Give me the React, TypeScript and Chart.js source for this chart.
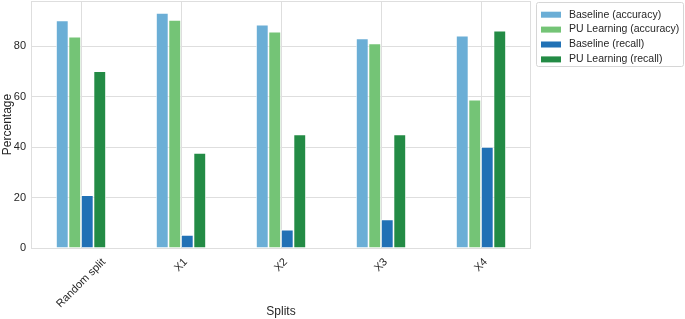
import React, { useEffect, useRef } from "react";
import { Chart, registerables } from "chart.js";
Chart.register(...registerables);

const categories = ["Random split", "X1", "X2", "X3", "X4"];
const baselineAccuracy = [90.3, 93.3, 88.6, 83.1, 84.2];
const puAccuracy = [83.8, 90.5, 85.8, 81.2, 58.8];
const baselineRecall = [20.9, 5.2, 7.3, 11.3, 40.1];
const puRecall = [70.1, 37.7, 45.1, 45.1, 86.2];
const yTicks = [0, 20, 40, 60, 80];
const seriesLabels = [
  "Baseline (accuracy)",
  "PU Learning (accuracy)",
  "Baseline (recall)",
  "PU Learning (recall)",
];
const seriesColors = ["#6baed6", "#74c476", "#2171b5", "#238b45"];

const FONT = "'Liberation Sans', Arial, Helvetica, sans-serif";
const TEXT = "#262626";
const GRID = "#dedede";

const framePlugin = {
  id: "frame",
  afterDatasetsDraw(chart: any) {
    const { ctx, chartArea } = chart;
    ctx.save();
    ctx.strokeStyle = GRID;
    ctx.lineWidth = 1;
    ctx.strokeRect(
      Math.round(chartArea.left) + 0.5,
      Math.round(chartArea.top) + 0.5,
      Math.round(chartArea.right - chartArea.left) - 1,
      Math.round(chartArea.bottom - chartArea.top)
    );
    ctx.restore();
  },
};

const xLabelPlugin = {
  id: "xLabels",
  afterDraw(chart: any) {
    const { ctx, chartArea } = chart;
    const xs = chart.scales.x;
    const size = 11;
    ctx.save();
    ctx.font = `${size}px ${FONT}`;
    ctx.fillStyle = TEXT;
    ctx.textAlign = "center";
    ctx.textBaseline = "middle";
    const labels = chart.data.labels as string[];
    labels.forEach((lab, i) => {
      const tx = xs.getPixelForTick(i);
      const w = ctx.measureText(lab).width;
      const h = size * 1.0;
      const bb = (w + h) * Math.SQRT1_2;
      const top = chartArea.bottom + 8.5;
      ctx.save();
      ctx.translate(tx, top + bb / 2);
      ctx.rotate(-Math.PI / 4);
      ctx.fillText(lab, 0, 0);
      ctx.restore();
    });
    ctx.restore();
  },
};

const legendPlugin = {
  id: "customLegend",
  afterDraw(chart: any) {
    const { ctx, chartArea } = chart;
    const x0 = chartArea.right + 5.5;
    const y0 = 2.5;
    const w = 147;
    const h = 64;
    ctx.save();
    ctx.fillStyle = "#ffffff";
    ctx.strokeStyle = "#d6d6d6";
    ctx.lineWidth = 1;
    ctx.beginPath();
    (ctx as any).roundRect(x0, y0, w, h, 2);
    ctx.fill();
    ctx.stroke();
    ctx.font = `10.5px ${FONT}`;
    ctx.textBaseline = "middle";
    ctx.textAlign = "left";
    chart.data.datasets.forEach((ds: any, i: number) => {
      const cy = 14.7 + i * 14.9;
      ctx.fillStyle = ds.backgroundColor;
      ctx.fillRect(x0 + 4.5, cy - 3, 20, 6);
      ctx.fillStyle = TEXT;
      ctx.fillText(ds.label, x0 + 32.5, cy);
    });
    ctx.restore();
  },
};

export default function App() {
  const ref = useRef<HTMLCanvasElement | null>(null);
  useEffect(() => {
    if (!ref.current) return;
    const seriesValues = [baselineAccuracy, puAccuracy, baselineRecall, puRecall];
    const chart = new Chart(ref.current, {
      type: "bar",
      data: {
        labels: categories,
        datasets: seriesValues.map((vals, i) => ({
          label: seriesLabels[i],
          data: vals,
          backgroundColor: seriesColors[i],
          borderColor: "rgba(255,255,255,0.85)",
          borderWidth: 0.8,
          categoryPercentage: 0.5,
          barPercentage: 1,
        })),
      },
      options: {
        animation: false,
        responsive: false,
        devicePixelRatio: 1,
        layout: { padding: { left: 0, top: 1, right: 154, bottom: 0 } },
        plugins: {
          legend: { display: false },
          tooltip: { enabled: false },
        },
        scales: {
          x: {
            offset: true,
            grid: { offset: false, color: GRID, drawTicks: false },
            border: { display: false },
            ticks: { display: false, autoSkip: false },
            title: {
              display: true,
              text: "Splits",
              color: TEXT,
              font: { family: FONT, size: 12 },
              padding: { top: 0, bottom: 0 },
            },
            afterFit(scale: any) {
              scale.height = 71;
              scale.paddingLeft = 0;
              scale.paddingRight = 0;
            },
          },
          y: {
            min: 0,
            max: 98,
            grid: { color: GRID, drawTicks: false },
            border: { display: false },
            ticks: {
              color: TEXT,
              font: { family: FONT, size: 11 },
              padding: 5,
            },
            afterBuildTicks(scale: any) {
              scale.ticks = yTicks.map((v) => ({ value: v }));
            },
            title: {
              display: true,
              text: "Percentage",
              color: TEXT,
              font: { family: FONT, size: 12 },
              padding: { top: 0, bottom: 0 },
            },
            afterFit(scale: any) {
              scale.width = 31;
              scale.paddingTop = 0;
              scale.paddingBottom = 0;
            },
          },
        },
      },
      plugins: [framePlugin, xLabelPlugin, legendPlugin],
    });
    return () => chart.destroy();
  }, []);
  return (
    <div style={{ position: "absolute", left: 0, top: 0, width: 685, height: 319, background: "#fff" }}>
      <canvas ref={ref} width={685} height={319} style={{ display: "block" }} />
    </div>
  );
}
